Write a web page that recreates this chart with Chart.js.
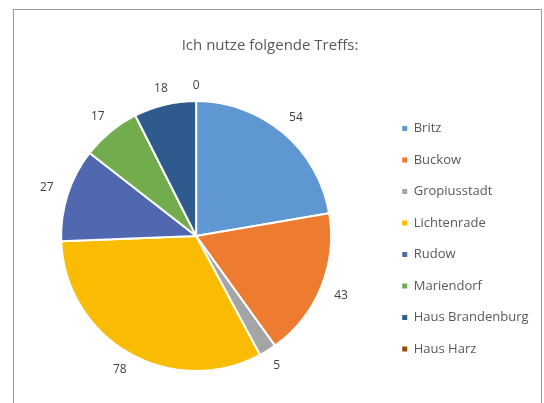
<!doctype html>
<html>

<head>
    <title>Ich nutze folgende Treffs</title>
    <script src="https://cdn.jsdelivr.net/npm/chart.js@4/dist/chart.umd.min.js"></script>
    <style>
    body {
        margin: 0;
        background: #ffffff;
    }
    #frame {
        position: absolute;
        left: 13px;
        top: 9px;
        width: 527px;
        height: 400px;
        border: 1px solid #9a9a9a;
    }
    #canvas {
        position: absolute;
        left: 0;
        top: 0;
    }
    </style>
</head>

<body>
    <div id="frame"></div>
    <canvas id="canvas" width="544" height="403"></canvas>
    <script>
    var treffs = ['Britz', 'Buckow', 'Gropiusstadt', 'Lichtenrade', 'Rudow', 'Mariendorf', 'Haus Brandenburg', 'Haus Harz'];
    var anzahl = [54, 43, 5, 78, 27, 17, 18, 0];
    var farben = ['#5E97D1', '#ED7C30', '#A5A5A5', '#F9BC02', '#5068B0', '#72AC4D', '#2E5A8E', '#9E480E'];

    var textColor = '#595959';
    var fontFamily = "'Open Sans', 'Noto Sans', sans-serif";

    // value labels just outside each slice, like Excel's "outside end"
    var outsideLabels = {
        id: 'outsideLabels',
        afterDatasetsDraw: function(chart) {
            var ctx = chart.ctx;
            var meta = chart.getDatasetMeta(0);
            ctx.save();
            ctx.font = '12px ' + fontFamily;
            ctx.fillStyle = '#404040';
            ctx.textAlign = 'center';
            ctx.textBaseline = 'middle';
            meta.data.forEach(function(arc, i) {
                var p = arc.getProps(['x', 'y', 'startAngle', 'endAngle', 'outerRadius'], true);
                var mid = (p.startAngle + p.endAngle) / 2;
                var txt = String(anzahl[i]);
                var w = ctx.measureText(txt).width;
                var d = p.outerRadius + 14 + Math.abs(Math.cos(mid)) * (w / 2 + 1) + Math.abs(Math.sin(mid)) * 1;
                ctx.fillText(txt, p.x + Math.cos(mid) * d, p.y + Math.sin(mid) * d);
            });
            ctx.restore();
        }
    };

    var config = {
        type: 'pie',
        data: {
            labels: treffs,
            datasets: [{
                data: anzahl,
                backgroundColor: farben,
                borderColor: '#ffffff',
                borderWidth: 2,
                hoverOffset: 0,
                radius: 135
            }]
        },
        options: {
            responsive: false,
            animation: false,
            layout: {
                padding: { left: 1.5, right: 5.5, top: 0, bottom: 29 }
            },
            plugins: {
                title: {
                    display: true,
                    text: 'Ich nutze folgende Treffs:',
                    color: textColor,
                    font: { family: fontFamily, size: 15, weight: 'normal' },
                    padding: { top: 37, bottom: 43 }
                },
                legend: {
                    position: 'right',
                    align: 'end',
                    fullSize: false,
                    labels: {
                        usePointStyle: true,
                        boxWidth: 5,
                        boxHeight: 5,
                        padding: 11.5,
                        color: textColor,
                        font: { family: fontFamily, size: 13, lineHeight: 20 / 13 },
                        generateLabels: function(chart) {
                            return treffs.map(function(name, i) {
                                return {
                                    text: [name],
                                    fillStyle: farben[i],
                                    strokeStyle: farben[i],
                                    lineWidth: 0,
                                    pointStyle: 'rect',
                                    fontColor: textColor,
                                    hidden: false,
                                    index: i
                                };
                            });
                        }
                    }
                },
                tooltip: { enabled: false }
            }
        },
        plugins: [outsideLabels]
    };

    window.onload = function() {
        window.myPie = new Chart(document.getElementById('canvas'), config);
    };
    </script>
</body>

</html>
